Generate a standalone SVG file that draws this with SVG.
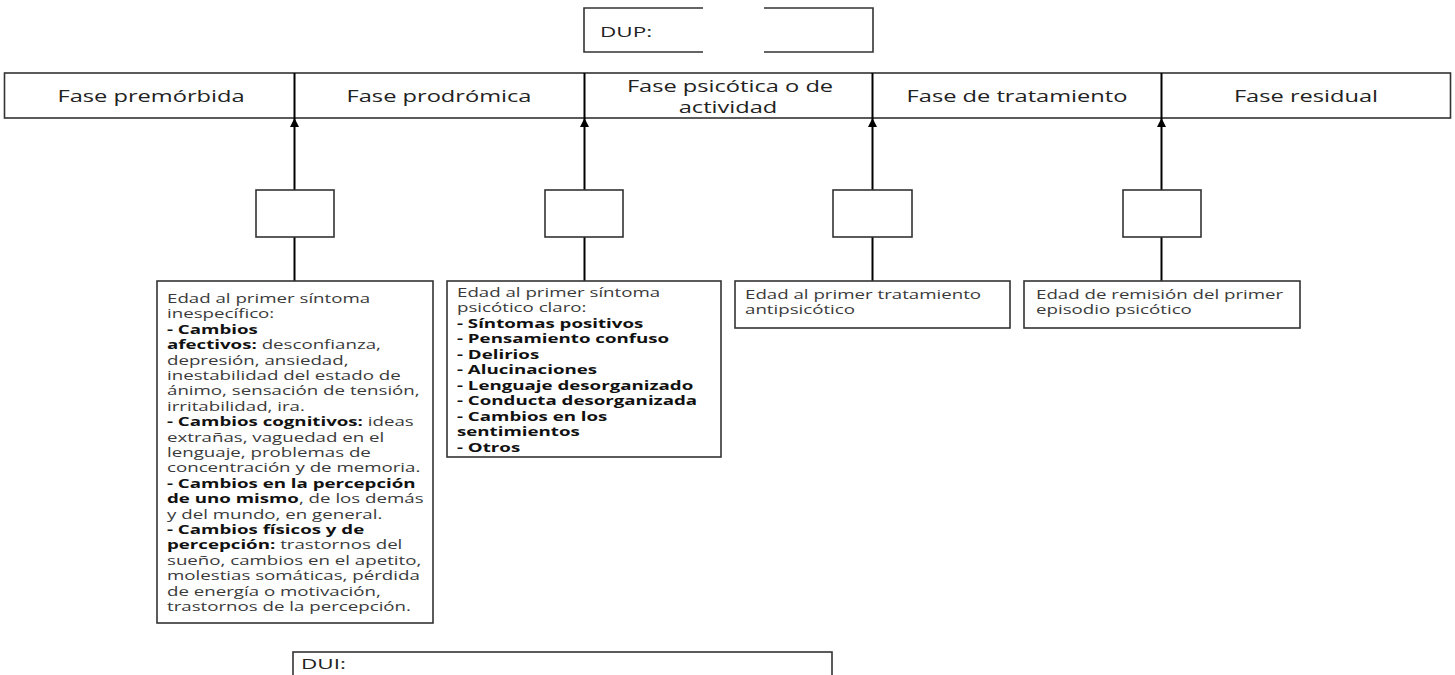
<svg xmlns="http://www.w3.org/2000/svg" width="1455" height="675" viewBox="0 0 1455 675">
<defs>
<style>
.bx{fill:#fff;stroke:#333;stroke-width:1.6}
.ln{stroke:#000;stroke-width:2;fill:none}
.ph{font-family:"Open Sans","Noto Sans",sans-serif;font-size:17px;fill:#222;text-anchor:middle}
.tx{font-family:"Open Sans","Noto Sans",sans-serif;font-size:12.3px;fill:#3a3a3a}
.b{font-weight:bold;fill:#111}
.lb{font-family:"Open Sans","Noto Sans",sans-serif;font-size:15px;fill:#222}
</style>
<marker id="ah" viewBox="0 0 10 10" refX="10" refY="5" markerWidth="4.5" markerHeight="4.5" orient="auto" markerUnits="strokeWidth">
<path d="M0,0 L10,5 L0,10 Z" fill="#000"/>
</marker>
</defs>
<rect width="1455" height="675" fill="#fff"/>

<g id="dup">
<path d="M703,8 H584 V52 H703 M764,8 H873 V52 H764" class="ln" style="stroke:#333;stroke-width:1.6"/>
<text class="lb" transform="translate(600,37) scale(1.5,1)">DUP:</text>
</g>

<g id="phases">
<rect class="bx" x="4.5" y="73" width="1446" height="45"/>
<line class="ln" x1="294.5" y1="73" x2="294.5" y2="118"/>
<line class="ln" x1="584.5" y1="73" x2="584.5" y2="118"/>
<line class="ln" x1="872.5" y1="73" x2="872.5" y2="118"/>
<line class="ln" x1="1161.5" y1="73" x2="1161.5" y2="118"/>
<text class="ph" transform="translate(151,102) scale(1.39,1)">Fase premórbida</text>
<text class="ph" transform="translate(439,102) scale(1.39,1)">Fase prodrómica</text>
<text class="ph" transform="translate(730,92) scale(1.39,1)">Fase psicótica o de</text>
<text class="ph" transform="translate(728,113) scale(1.39,1)">actividad</text>
<text class="ph" transform="translate(1017,102) scale(1.39,1)">Fase de tratamiento</text>
<text class="ph" transform="translate(1306,102) scale(1.39,1)">Fase residual</text>
</g>

<g id="connectors">
<line class="ln" x1="294.5" y1="190" x2="294.5" y2="118" marker-end="url(#ah)"/>
<line class="ln" x1="584.5" y1="190" x2="584.5" y2="118" marker-end="url(#ah)"/>
<line class="ln" x1="872.5" y1="190" x2="872.5" y2="118" marker-end="url(#ah)"/>
<line class="ln" x1="1161.5" y1="190" x2="1161.5" y2="118" marker-end="url(#ah)"/>
<line class="ln" x1="294.5" y1="237" x2="294.5" y2="281"/>
<line class="ln" x1="584.5" y1="237" x2="584.5" y2="281"/>
<line class="ln" x1="872.5" y1="237" x2="872.5" y2="281"/>
<line class="ln" x1="1161.5" y1="237" x2="1161.5" y2="281"/>
</g>

<g id="small1"><rect class="bx" x="256" y="190" width="78" height="47"/></g>
<g id="small2"><rect class="bx" x="545" y="190" width="78" height="47"/></g>
<g id="small3"><rect class="bx" x="833" y="190" width="79" height="47"/></g>
<g id="small4"><rect class="bx" x="1123" y="190" width="78" height="47"/></g>

<g id="box1">
<rect class="bx" x="157" y="281" width="276" height="342"/>
<g transform="translate(167,0) scale(1.52,1)">
<text class="tx" x="0" y="303">Edad al primer síntoma</text>
<text class="tx" x="0" y="318.4">inespecífico:</text>
<text class="tx" x="0" y="333.8"><tspan class="b">- Cambios</tspan></text>
<text class="tx" x="0" y="349.2"><tspan class="b">afectivos:</tspan> desconfianza,</text>
<text class="tx" x="0" y="364.6">depresión, ansiedad,</text>
<text class="tx" x="0" y="380">inestabilidad del estado de</text>
<text class="tx" x="0" y="395.4">ánimo, sensación de tensión,</text>
<text class="tx" x="0" y="410.8">irritabilidad, ira.</text>
<text class="tx" x="0" y="426.2"><tspan class="b">- Cambios cognitivos:</tspan> ideas</text>
<text class="tx" x="0" y="441.6">extrañas, vaguedad en el</text>
<text class="tx" x="0" y="457">lenguaje, problemas de</text>
<text class="tx" x="0" y="472.4">concentración y de memoria.</text>
<text class="tx" x="0" y="487.8"><tspan class="b">- Cambios en la percepción</tspan></text>
<text class="tx" x="0" y="503.2"><tspan class="b">de uno mismo</tspan>, de los demás</text>
<text class="tx" x="0" y="518.6">y del mundo, en general.</text>
<text class="tx" x="0" y="534"><tspan class="b">- Cambios físicos y de</tspan></text>
<text class="tx" x="0" y="549.4"><tspan class="b">percepción:</tspan> trastornos del</text>
<text class="tx" x="0" y="564.8">sueño, cambios en el apetito,</text>
<text class="tx" x="0" y="580.2">molestias somáticas, pérdida</text>
<text class="tx" x="0" y="595.6">de energía o motivación,</text>
<text class="tx" x="0" y="611">trastornos de la percepción.</text>
</g>
</g>

<g id="box2">
<rect class="bx" x="447" y="281" width="274" height="176"/>
<g transform="translate(457,0) scale(1.52,1)">
<text class="tx" x="0" y="297">Edad al primer síntoma</text>
<text class="tx" x="0" y="312.5">psicótico claro:</text>
<text class="tx b" x="0" y="328">- Síntomas positivos</text>
<text class="tx b" x="0" y="343.5">- Pensamiento confuso</text>
<text class="tx b" x="0" y="359">- Delirios</text>
<text class="tx b" x="0" y="374.5">- Alucinaciones</text>
<text class="tx b" x="0" y="390">- Lenguaje desorganizado</text>
<text class="tx b" x="0" y="405.5">- Conducta desorganizada</text>
<text class="tx b" x="0" y="421">- Cambios en los</text>
<text class="tx b" x="0" y="436.5">sentimientos</text>
<text class="tx b" x="0" y="452">- Otros</text>
</g>
</g>

<g id="box3">
<rect class="bx" x="735" y="281" width="275" height="47"/>
<g transform="translate(745,0) scale(1.52,1)">
<text class="tx" x="0" y="299">Edad al primer tratamiento</text>
<text class="tx" x="0" y="314.5">antipsicótico</text>
</g>
</g>

<g id="box4">
<rect class="bx" x="1024" y="281" width="276" height="47"/>
<g transform="translate(1036,0) scale(1.52,1)">
<text class="tx" x="0" y="299">Edad de remisión del primer</text>
<text class="tx" x="0" y="314.5">episodio psicótico</text>
</g>
</g>

<g id="dui">
<rect class="bx" x="293" y="652" width="539" height="40"/>
<text class="lb" transform="translate(301,669) scale(1.5,1)">DUI:</text>
</g>
</svg>
